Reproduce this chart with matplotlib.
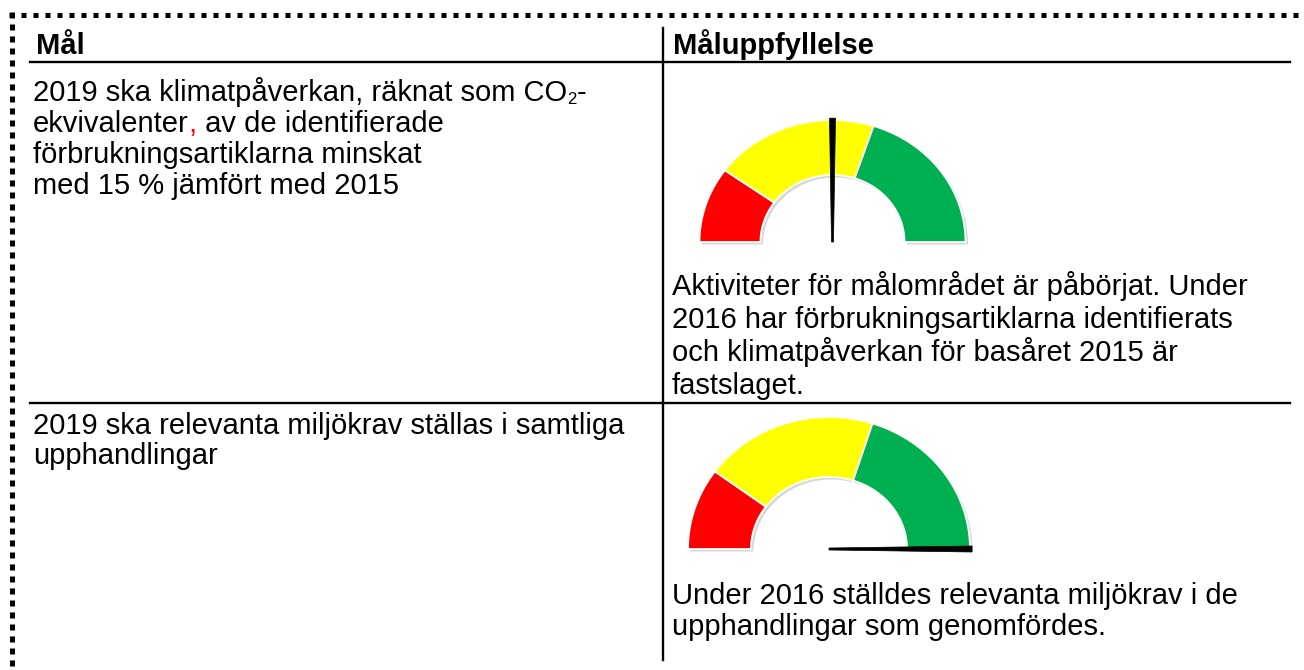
import numpy as np
import matplotlib
matplotlib.use("Agg")
import matplotlib.pyplot as plt

plt.rcParams['font.family'] = ['Liberation Sans', 'DejaVu Sans']

# table content
headers = ["Mål", "Måluppfyllelse"]
goal_1_lines = ["2019 ska klimatpåverkan, räknat som CO", "ekvivalenter", "förbrukningsartiklarna minskat",
                "med 15 % jämfört med 2015"]
status_1_lines = ["Aktiviteter för målområdet är påbörjat. Under", "2016 har förbrukningsartiklarna identifierats",
                  "och klimatpåverkan för basåret 2015 är", "fastslaget."]
goal_2_lines = ["2019 ska relevanta miljökrav ställas i samtliga", "upphandlingar"]
status_2_lines = ["Under 2016 ställdes relevanta miljökrav i de", "upphandlingar som genomfördes."]

# gauge data (percent of full scale)
zone_edges = [0, 20, 60, 100]
zone_colors = ["#ff0000", "#ffff00", "#00b050"]
needle_values = [50, 100]

FS = 21
W, H = 1304, 670

fig = plt.figure(figsize=(W / 100, H / 100), dpi=100)
ax = fig.add_axes([0, 0, 1, 1])
ax.set_xlim(0, W)
ax.set_ylim(H, 0)
ax.axis('off')

# dotted frame
ax.plot([9, W], [15, 15], color='black', lw=3.6, ls=(0, (1, 1.4)), solid_capstyle='butt', dash_capstyle='butt')
ax.plot([12, 12], [12, H], color='black', lw=3.6, ls=(0, (1.2, 1.2)), solid_capstyle='butt', dash_capstyle='butt')

# table lines
ax.plot([30, 1290], [62, 62], color='black', lw=1.7)
ax.plot([30, 1290], [403, 403], color='black', lw=1.7)
ax.plot([663, 663], [28, 660], color='black', lw=1.7)

ax.text(36, 54, headers[0], fontsize=FS, fontweight='bold', va='baseline')
ax.text(673, 54, headers[1], fontsize=FS, fontweight='bold', va='baseline')


def write_lines(x, y0, lines, step):
    out = []
    for i, s in enumerate(lines):
        out.append(ax.text(x, y0 + i * step, s, fontsize=FS, va='baseline'))
    return out


left1 = write_lines(33, 101, goal_1_lines, 31)
# CO2 subscript and the red comma
sub = ax.annotate("2", xy=(1, 0), xycoords=left1[0], fontsize=12, va='bottom', ha='left')
ax.annotate("-", xy=(1, 0), xycoords=(sub, left1[0]), fontsize=FS, va='bottom', ha='left')
comma = ax.annotate(",", xy=(1, 0), xycoords=left1[1], fontsize=FS, va='bottom', ha='left', color='#ff0000')
ax.annotate(" av de identifierade", xy=(1, 0), xycoords=comma, fontsize=FS, va='bottom', ha='left')

write_lines(672, 295, status_1_lines, 33)
write_lines(33, 434, goal_2_lines, 30)
write_lines(672, 604, status_2_lines, 31)


def val_to_ang(v):
    return np.pi * (1 - v / 100.0)


def draw_gauge(cx, cy, rx_o, ry_o, rx_i, ry_i, value):
    # soft shadow
    t = np.linspace(0, np.pi, 200)
    xs = np.concatenate([cx + rx_o * np.cos(t), cx + rx_i * np.cos(t[::-1])])
    ys = np.concatenate([cy - ry_o * np.sin(t), cy - ry_i * np.sin(t[::-1])])
    ax.fill(xs + 2.5, ys + 2.5, color='#bdbdbd', lw=0, alpha=0.6, zorder=2)
    for lo, hi, c in zip(zone_edges[:-1], zone_edges[1:], zone_colors):
        t = np.linspace(val_to_ang(hi), val_to_ang(lo), 80)
        xs = np.concatenate([cx + rx_o * np.cos(t), cx + rx_i * np.cos(t[::-1])])
        ys = np.concatenate([cy - ry_o * np.sin(t), cy - ry_i * np.sin(t[::-1])])
        ax.fill(xs, ys, facecolor=c, edgecolor='white', lw=1.3, zorder=3)
    # needle
    a = val_to_ang(value)
    L = 1.015 * np.hypot(rx_o * np.cos(a), ry_o * np.sin(a))
    ux, uy = np.cos(a), -np.sin(a)
    px, py = -uy, ux
    tip_x, tip_y = cx + L * ux, cy + L * uy
    nx = [cx + px * 1.0, tip_x + px * 3.0, tip_x - px * 3.0, cx - px * 1.0]
    ny = [cy + py * 1.0, tip_y + py * 3.0, tip_y - py * 3.0, cy - py * 1.0]
    ax.fill(nx, ny, color='black', lw=0.5, ec='black', zorder=4)


draw_gauge(832.5, 242, 133, 122, 72, 67, needle_values[0])
draw_gauge(829, 549, 141, 132, 78, 72, needle_values[1])

fig.savefig("out.png", dpi=100)
